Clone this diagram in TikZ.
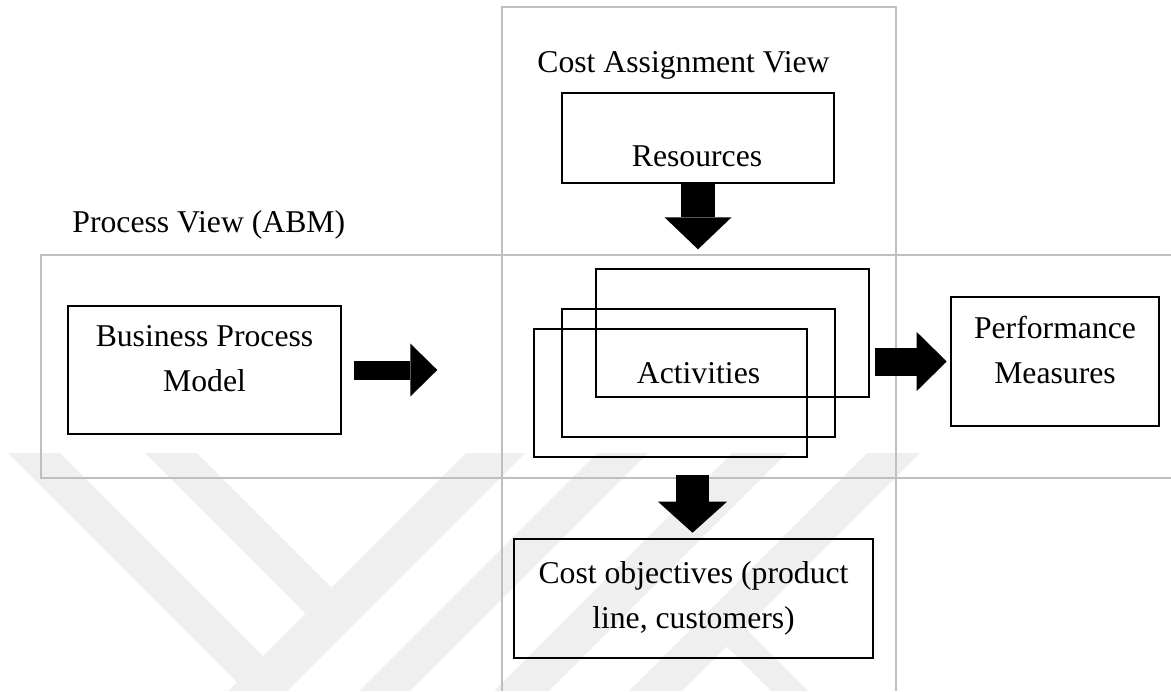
\documentclass[tikz,border=0pt]{standalone}
\usepackage{fontspec}
\setmainfont{Liberation Serif}
\usetikzlibrary{arrows.meta}
\definecolor{framegray}{RGB}{191,191,191}
\definecolor{markgray}{RGB}{239,239,239}
\begin{document}
\begin{tikzpicture}[x=0.5pt,y=-0.5pt,
		box/.style={draw,line width=1.3pt,inner sep=0pt,minimum width=136.5pt,minimum height=64pt},
		lbl/.style={font=\fontsize{15.85}{22.5}\selectfont,align=center,inner sep=0pt},
		frame/.style={draw=framegray,line width=1.4pt},
		fat/.style args={#1/#2/#3}{line width=#1,-{Triangle[width=#2,length=#3,line width=0pt]}}]
		\useasboundingbox (0,0) rectangle (1171,691);
		\fill[markgray] (8,453)--(60,453)--(263,656)--(237,682)--cycle;
		\fill[markgray] (145,453)--(197,453)--(331.5,587.5)--(305.5,613.5)--cycle;
		\fill[markgray] (466,453)--(525,453)--(287,691)--(228,691)--cycle;
		\fill[markgray] (597,453)--(648,453)--(410,691)--(359,691)--cycle;
		\fill[markgray] (732,453)--(787,453)--(549,691)--(494,691)--cycle;
		\fill[markgray] (867,453)--(920,453)--(682,691)--(629,691)--cycle;
		\fill[markgray] (745,628)--(808,691)--(771,691)--(726.5,646.5)--cycle;
		\draw[frame] (1171,255)--(41,255)--(41,478)--(1171,478);
		\draw[frame] (502,691)--(502,7)--(896,7)--(896,691);
		\node[lbl,anchor=base west] (pview) at (72,232) {Process View (ABM)};
		\node[lbl,anchor=base west] (cview) at (537,72) {Cost Assignment View};
		\node[box] (bpm) at (204.5,370) {};
		\node[lbl] (bpmtext) at (204.5,358.7) {Business Process\\Model};
		\node[box,minimum width=136pt,minimum height=45pt] (res) at (698,138) {};
		\node[lbl,anchor=base] (restext) at (697,166) {Resources};
		\node[box] (back) at (732.5,333) {};
		\node[box,lbl] (act) at (698.5,373) {Activities};
		\node[box] (front) at (670.5,393) {};
		\node[box,minimum width=104pt,minimum height=64.5pt] (perf) at (1055,361.5) {};
		\node[lbl] (perftext) at (1055,350.2) {Performance\\Measures};
		\node[box,lbl,minimum width=179.5pt,minimum height=59.5pt] (cost) at (693.5,598.5) {Cost objectives (product\\line, customers)};
		\draw[fat=9.5pt/26.5pt/13.5pt] ([xshift=6pt]bpm.east) -- ++(83,0);
		\draw[fat=14pt/29.5pt/15pt] ([xshift=-37.5pt]perf.west) -- ([xshift=-1.5pt]perf.west);
		\draw[fat=17pt/33.5pt/16pt] (res.south) -- ++(0,65);
		\draw[fat=16.5pt/34.5pt/15.5pt] ([xshift=-0.5pt,yshift=31.5pt]cost.north) -- ([xshift=-0.5pt,yshift=2.5pt]cost.north);
\end{tikzpicture}
\end{document}
